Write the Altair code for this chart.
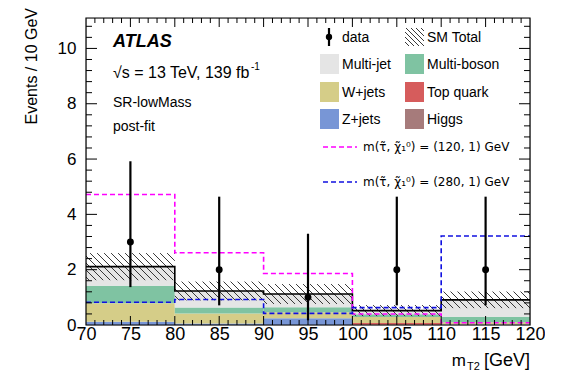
import altair as alt
import numpy as np
import pandas as pd

# ---------------- data ----------------
bin_lo = [70, 80, 90, 100, 110]
bin_hi = [80, 90, 100, 110, 120]
components = ["Z+jets", "Higgs", "Top quark", "W+jets", "Multi-boson", "Multi-jet"]
z_jets      = [0.12, 0.05, 0.24, 0.00, 0.02]
higgs       = [0.00, 0.00, 0.00, 0.01, 0.00]
top_quark   = [0.00, 0.00, 0.00, 0.06, 0.00]
w_jets      = [0.67, 0.37, 0.22, 0.22, 0.08]
multi_boson = [0.63, 0.21, 0.18, 0.10, 0.20]
multi_jet   = [0.69, 0.60, 0.48, 0.13, 0.61]
sm_unc      = [0.49, 0.34, 0.36, 0.20, 0.30]

data_x  = [75, 85, 95, 105, 115]
data_y  = [3, 2, 1, 2, 2]
data_lo = [1.37, 0.71, 0.17, 0.71, 0.71]
data_hi = [5.92, 4.64, 3.30, 4.64, 4.64]

sig120 = [4.72, 2.61, 1.86, 0.40, 0.08]
sig280 = [0.82, 0.92, 0.42, 0.63, 3.22]

comp_colors = ["#7896d6", "#a67b7b", "#d65c5c", "#d5cd88", "#7fc3a2", "#e5e5e5"]
x_labels = [70, 75, 80, 85, 90, 95, 100, 105, 110, 115, 120]
y_labels = [0, 2, 4, 6, 8, 10]

# ---------------- geometry ----------------
W, H = 444, 307
XMIN, XMAX, YMIN, YMAX = 70, 120, 0, 11.1
FONT = "Liberation Sans"


def px(x):
    return (x - XMIN) / (XMAX - XMIN) * W


def py(y):
    return (1 - (y - YMIN) / (YMAX - YMIN)) * H


def ix(p):
    return XMIN + p / W * (XMAX - XMIN)


def iy(p):
    return YMIN + (1 - p / H) * (YMAX - YMIN)


xs = alt.Scale(domain=[XMIN, XMAX], nice=False, zero=False)
ys = alt.Scale(domain=[YMIN, YMAX], nice=False, zero=False)
x_axis = alt.Axis(values=x_labels, ticks=False, domain=False, grid=False, title=None,
                  labelFontSize=18, labelFont=FONT, labelColor="black", labelPadding=0,
                  labelFlush=False, labelOverlap=False)
y_axis = alt.Axis(values=y_labels, ticks=False, domain=False, grid=False, title=None,
                  labelFontSize=17, labelFont=FONT, labelColor="black", labelPadding=10,
                  labelFlush=False, labelOverlap=False)


def X(f="x"):
    return alt.X(f"{f}:Q", scale=xs, axis=x_axis)


def Y(f="y"):
    return alt.Y(f"{f}:Q", scale=ys, axis=y_axis)


# ---------------- stacked backgrounds ----------------
comp_vals = [z_jets, higgs, top_quark, w_jets, multi_boson, multi_jet]
rows = []
for b in range(len(bin_lo)):
    base = 0.0
    for c, vals in zip(components, comp_vals):
        v = vals[b]
        if v > 0:
            rows.append({"x": bin_lo[b], "x2": bin_hi[b], "y": base, "y2": base + v, "comp": c})
        base += v
stack_df = pd.DataFrame(rows)
totals = [sum(v[b] for v in comp_vals) for b in range(len(bin_lo))]

color_scale = alt.Scale(domain=components, range=comp_colors)
bars = alt.Chart(stack_df).mark_rect().encode(
    x=X(), x2="x2:Q", y=Y(), y2="y2:Q",
    color=alt.Color("comp:N", scale=color_scale, legend=None))


# ---------------- hatched uncertainty band ----------------
def hatch(x0p, x1p, ytp, ybp, s=7.0):
    segs = []
    cmin, cmax = ytp - x1p, ybp - x0p
    for k in range(int(np.floor(cmin / s)), int(np.ceil(cmax / s)) + 1):
        c = k * s
        lo = max(x0p, ytp - c)
        hi = min(x1p, ybp - c)
        if hi - lo > 0.4:
            segs.append((lo, lo + c, hi, hi + c))
    return segs


hrows = []
for b in range(len(bin_lo)):
    for (a, b1, c, d) in hatch(px(bin_lo[b]), px(bin_hi[b]),
                               py(totals[b] + sm_unc[b]), py(totals[b] - sm_unc[b])):
        hrows.append({"x": ix(a), "y": iy(b1), "x2": ix(c), "y2": iy(d)})
# legend swatch for SM Total
for (a, b1, c, d) in hatch(319, 338, 10, 28, s=5.0):
    hrows.append({"x": ix(a), "y": iy(b1), "x2": ix(c), "y2": iy(d)})
hatch_df = pd.DataFrame(hrows)
hatch_layer = alt.Chart(hatch_df).mark_rule(color="#222222", strokeWidth=0.9).encode(
    x=X(), y=Y(), x2="x2:Q", y2="y2:Q")

# ---------------- step lines ----------------
edges = bin_lo + [bin_hi[-1]]


def step_df(vals):
    return pd.DataFrame({"x": edges, "y": list(vals) + [vals[-1]]})


total_line = alt.Chart(step_df(totals)).mark_line(
    interpolate="step-after", color="black", strokeWidth=1.6).encode(x=X(), y=Y())
sig1 = alt.Chart(step_df(sig120)).mark_line(
    interpolate="step-after", color="#ff00ff", strokeWidth=1.6, strokeDash=[5, 3]).encode(x=X(), y=Y())
sig2 = alt.Chart(step_df(sig280)).mark_line(
    interpolate="step-after", color="#1010e0", strokeWidth=1.6, strokeDash=[5, 3]).encode(x=X(), y=Y())

# ---------------- data points ----------------
pts_df = pd.DataFrame({"x": data_x, "y": data_y, "lo": data_lo, "hi": data_hi})
errs = alt.Chart(pts_df).mark_rule(color="black", strokeWidth=2.2).encode(
    x=X(), y=Y("lo"), y2="hi:Q")
pts = alt.Chart(pts_df).mark_circle(color="black", opacity=1, size=48).encode(x=X(), y=Y())

# ---------------- inward ticks on all four sides ----------------
xmaj = pd.DataFrame({"x": np.arange(75, 120, 5)})
xmin_ = pd.DataFrame({"x": [v for v in range(71, 120) if v % 5 != 0]})
ymaj = pd.DataFrame({"y": [2, 4, 6, 8, 10]})
ymin_ = pd.DataFrame({"y": [round(v, 1) for v in np.arange(0.4, 11.0, 0.4) if abs(v / 2 - round(v / 2)) > 1e-6]})
tick_layers = []
for df, L in [(xmaj, 9), (xmin_, 5)]:
    tick_layers.append(alt.Chart(df).mark_rule(color="black", strokeWidth=1).encode(
        x=X(), y=alt.value(H), y2=alt.value(H - L)))
    tick_layers.append(alt.Chart(df).mark_rule(color="black", strokeWidth=1).encode(
        x=X(), y=alt.value(0), y2=alt.value(L)))
for df, L in [(ymaj, 11), (ymin_, 6)]:
    tick_layers.append(alt.Chart(df).mark_rule(color="black", strokeWidth=1).encode(
        y=Y(), x=alt.value(0), x2=alt.value(L)))
    tick_layers.append(alt.Chart(df).mark_rule(color="black", strokeWidth=1).encode(
        y=Y(), x=alt.value(W), x2=alt.value(W - L)))

one = pd.DataFrame({"a": [0]})
frame = alt.Chart(one).mark_rect(fill=None, stroke="black", strokeWidth=1.2).encode(
    x=alt.value(0), x2=alt.value(W), y=alt.value(0), y2=alt.value(H))

# ---------------- legend ----------------
leg_items = ["Multi-jet", "Multi-boson", "W+jets", "Top quark", "Z+jets", "Higgs"]
leg_cols = [(234, 253), (319, 338)]
leg_rows = [46, 74, 101]
lrows = []
for i, name in enumerate(leg_items):
    x0, x1 = leg_cols[i % 2]
    yc = leg_rows[i // 2]
    lrows.append({"x": ix(x0), "x2": ix(x1), "y": iy(yc - 10), "y2": iy(yc + 10), "comp": name,
                  "tx": x1 + 3, "ty": yc})
leg_df = pd.DataFrame(lrows)
leg_rects = alt.Chart(leg_df).mark_rect().encode(
    x=X(), x2="x2:Q", y=Y(), y2="y2:Q",
    color=alt.Color("comp:N", scale=color_scale, legend=None))

texts = []


def txt(s, x, y, size=14, **kw):
    texts.append(alt.Chart(one).mark_text(text=s, font=kw.pop("font", FONT), fontSize=size,
                                          color="black",
                                          align=kw.pop("align", "left"),
                                          baseline=kw.pop("baseline", "middle"), **kw)
                 .encode(x=alt.value(x), y=alt.value(y)))


for r in lrows:
    txt(r["comp"], r["tx"], r["ty"] + 1)

# data entry
leg_data = alt.Chart(one).mark_rule(color="black", strokeWidth=2.2).encode(
    x=alt.value(243), y=alt.value(10), y2=alt.value(28))
leg_dot = alt.Chart(one).mark_circle(color="black", opacity=1, size=40).encode(
    x=alt.value(243), y=alt.value(19))
txt("data", 256, 20)
txt("SM Total", 341, 20)

# signal entries
leg_sig1 = alt.Chart(one).mark_rule(color="#ff00ff", strokeWidth=1.6, strokeDash=[5, 3]).encode(
    x=alt.value(237), x2=alt.value(271), y=alt.value(129))
leg_sig2 = alt.Chart(one).mark_rule(color="#1010e0", strokeWidth=1.6, strokeDash=[5, 3]).encode(
    x=alt.value(237), x2=alt.value(271), y=alt.value(164))
txt("m(τ\u0303, χ\u0303\u2081\u2070) = (120, 1) GeV", 277, 129, size=12, font="DejaVu Sans")
txt("m(τ\u0303, χ\u0303\u2081\u2070) = (280, 1) GeV", 277, 164, size=12, font="DejaVu Sans")

# labels
txt("ATLAS", 27, 24, size=18, fontStyle="italic", fontWeight="bold")
txt("\u221as = 13 TeV, 139 fb", 27, 55, size=16)
txt("-1", 165, 49, size=10)
txt("SR-lowMass", 27, 85)
txt("post-fit", 27, 109)

# axis titles
txt("[GeV]", W, 348, size=18, align="right", baseline="alphabetic")
txt("m", 380, 348, size=17, align="right", baseline="alphabetic")
txt("T2", 381, 352, size=11, baseline="alphabetic")
txt("Events / 10 GeV", -54, -10, size=16, align="right", baseline="middle", angle=270)

chart = alt.layer(
    bars, hatch_layer, total_line, sig1, sig2, errs, pts, *tick_layers, frame,
    leg_rects, leg_data, leg_dot, leg_sig1, leg_sig2, *texts
).properties(
    width=W, height=H,
    autosize=alt.AutoSizeParams(type="none"),
    padding={"left": 78, "top": 10, "right": 15, "bottom": 46},
).configure_view(stroke=None).configure(font=FONT)

chart.save("out.html", embed_options={"renderer": "svg", "actions": False})
